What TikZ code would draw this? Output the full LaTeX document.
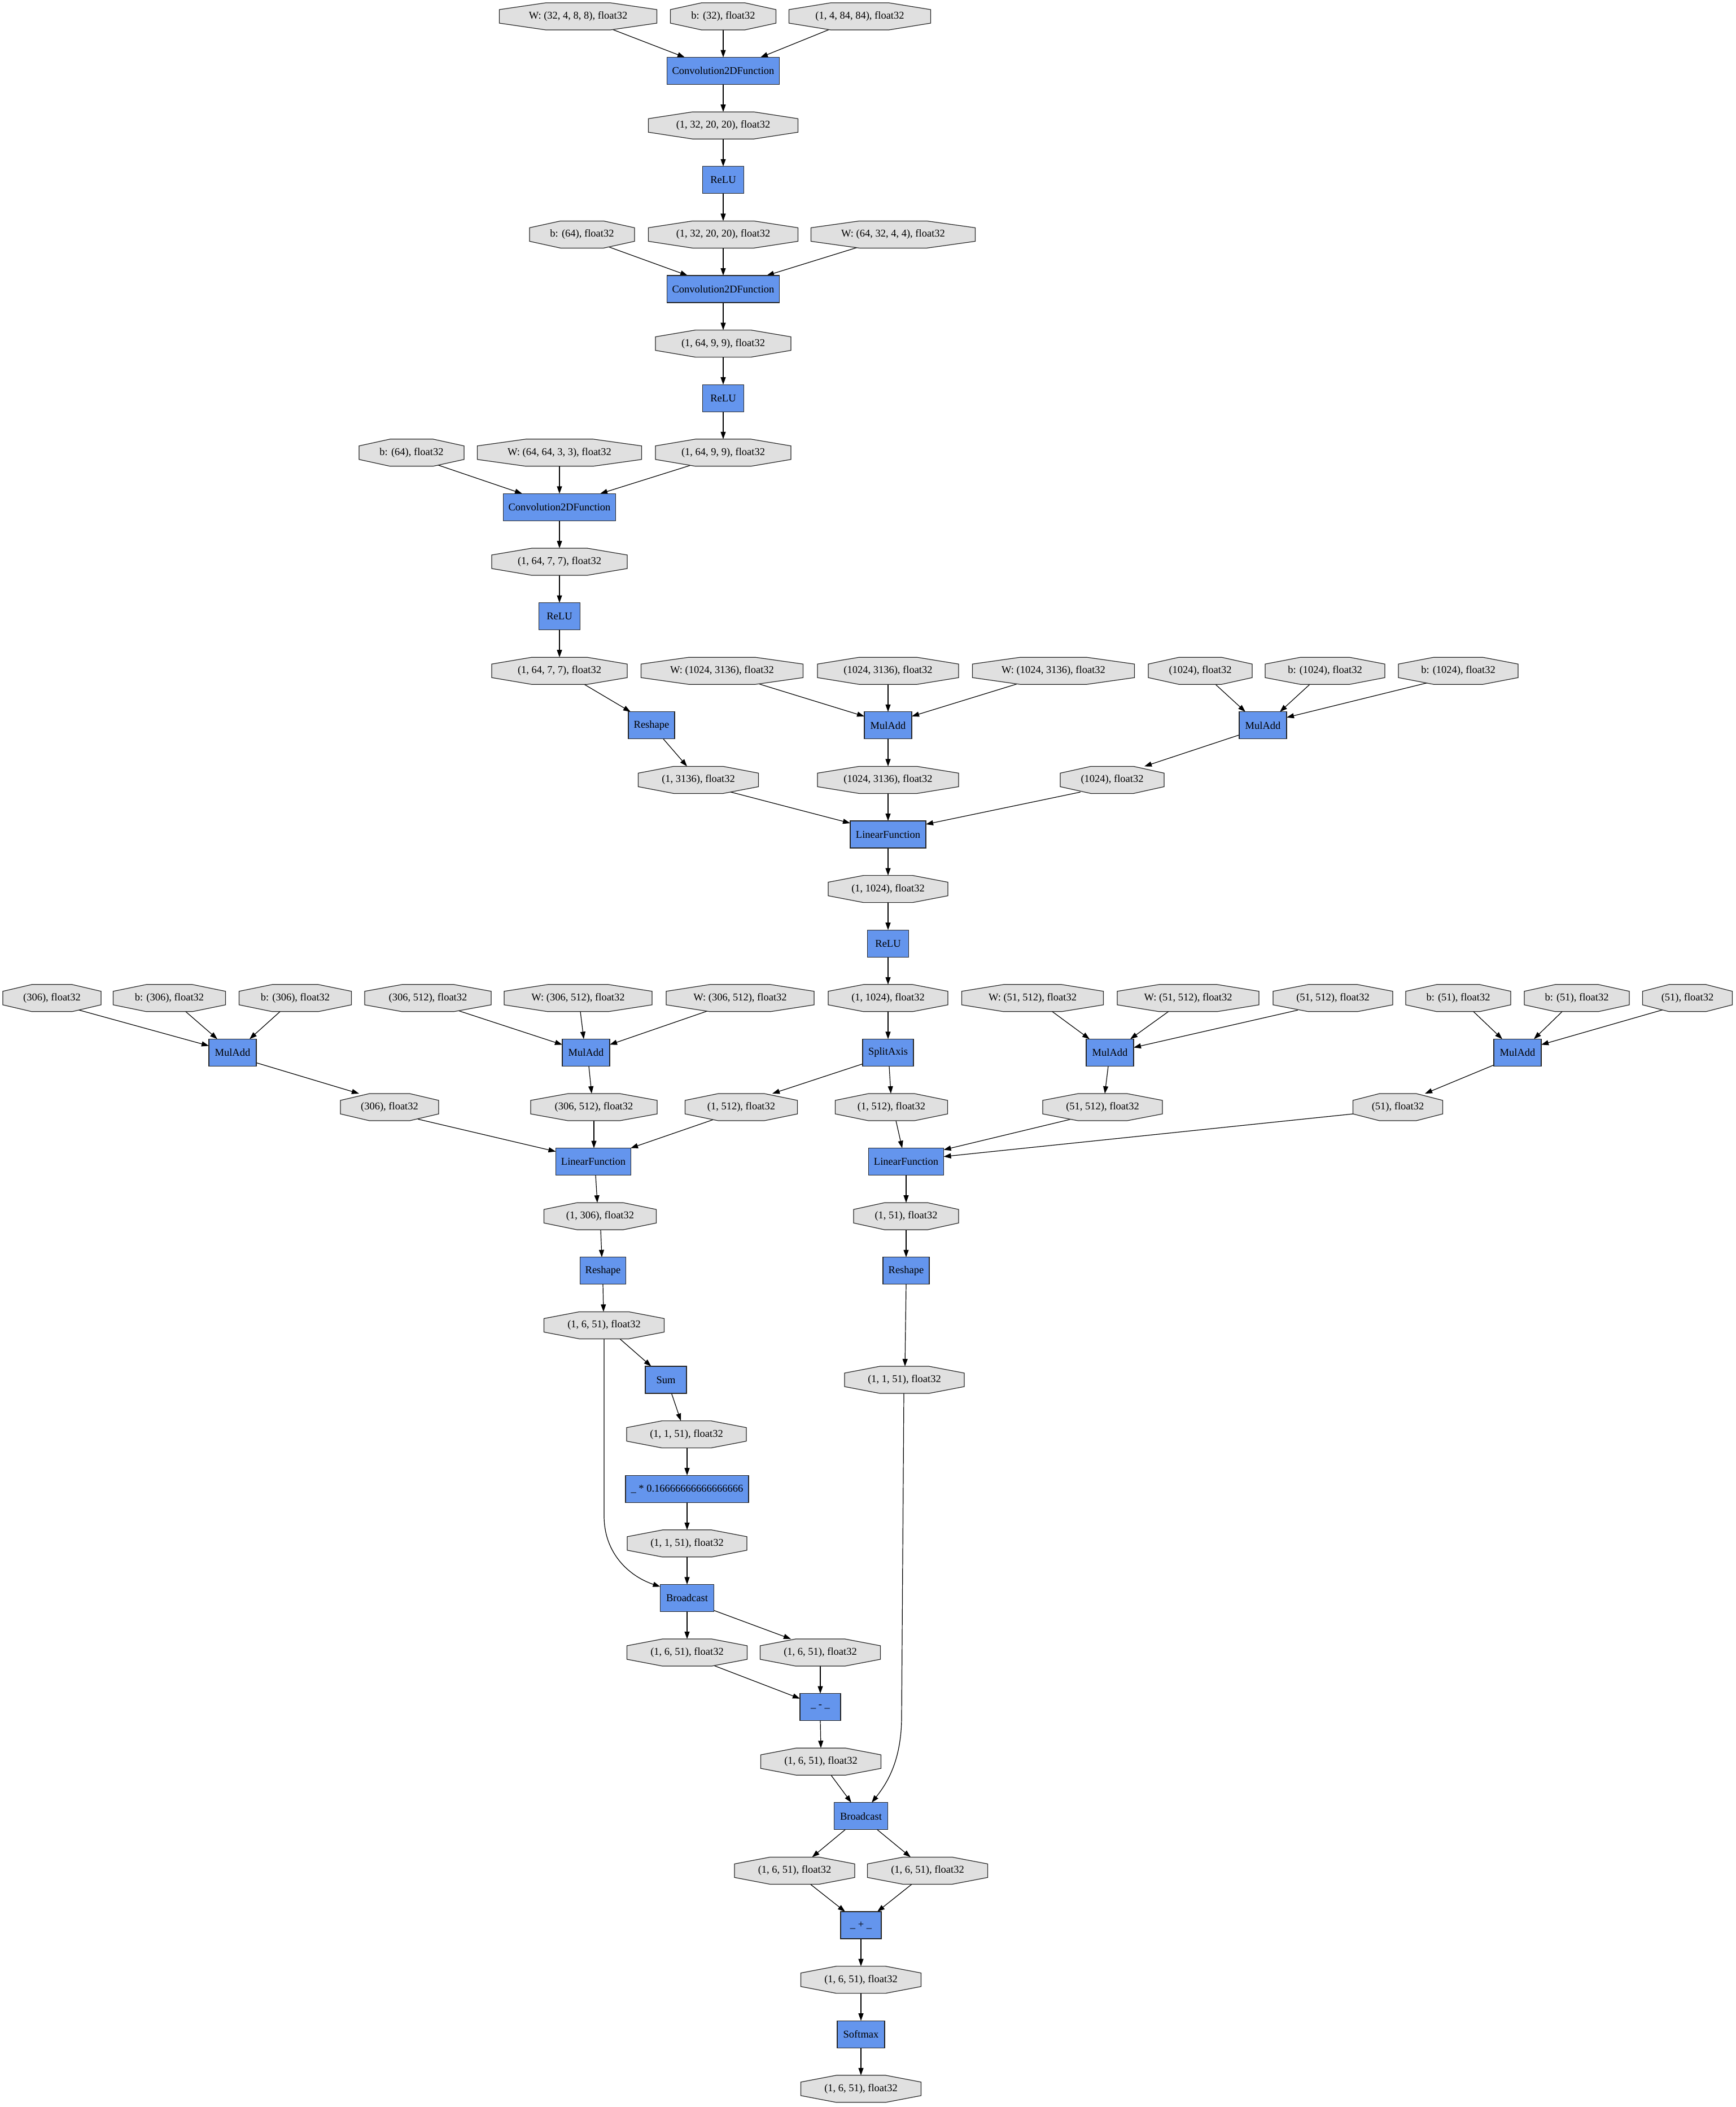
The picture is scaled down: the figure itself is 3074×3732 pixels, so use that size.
\documentclass[tikz,border=0pt]{standalone}
\usepackage{fontspec}
\setmainfont{Liberation Serif}
\usetikzlibrary{arrows.meta,calc}
\pgfdeclarelayer{edgelayer}
\pgfdeclarelayer{octlayer}
\pgfsetlayers{edgelayer,octlayer,main}
\definecolor{varfill}{HTML}{E0E0E0}
\definecolor{fnfill}{HTML}{6495ED}
\newcommand\gvfont{\fontsize{18.5pt}{21pt}\selectfont}
\newcommand\V[5]{\node[var,minimum width=#4pt] (#1) at (#2,{29+96.6*#3}) {#5};}
\newcommand\B[5]{\node[fn,minimum width=#4pt] (#1) at (#2,{29+96.6*#3}) {#5};}
\newcommand\E[4]{\draw[conn] ([xshift=#2pt]#1.south) -- ([xshift=#4pt]#3.north);}
\tikzset{
 var/.style={rectangle,inner sep=0pt,outer sep=0pt,minimum height=48pt,font=\gvfont},
 fn/.style={rectangle,draw=black!85,fill=fnfill,line width=1.2pt,inner sep=0pt,outer sep=0pt,minimum height=48pt,font=\gvfont},
 octshape/.style={draw=black!85,fill=varfill,line width=1.2pt,line join=miter},
 conn/.style={draw=black,line width=1.2pt,-{Triangle[length=13pt,width=9pt]},shorten <=-12pt},
}
\begin{document}
\begin{tikzpicture}[x=1pt,y=-1pt]
\useasboundingbox (0,0) rectangle (3074,3732);
\begin{pgfonlayer}{edgelayer}
\fill[white] (0,0) rectangle (3074,3732);
\end{pgfonlayer}
% row 0-11
\V{i1}{1024}{0}{279}{W: (32, 4, 8, 8), float32}
\V{i2}{1281}{0}{187}{b: (32), float32}
\V{i3}{1523}{0}{251}{(1, 4, 84, 84), float32}
\B{conv1}{1281}{1}{199}{Convolution2DFunction}
\V{v2}{1281}{2}{265}{(1, 32, 20, 20), float32}
\B{relu1}{1281}{3}{73}{ReLU}
\V{b4}{1031}{4}{186}{b: (64), float32}
\V{v4}{1281}{4}{265}{(1, 32, 20, 20), float32}
\V{w4}{1582}{4}{291}{W: (64, 32, 4, 4), float32}
\B{conv2}{1281}{5}{199}{Convolution2DFunction}
\V{v6}{1281}{6}{240}{(1, 64, 9, 9), float32}
\B{relu2}{1281}{7}{73}{ReLU}
\V{b8}{729}{8}{186}{b: (64), float32}
\V{w8}{991}{8}{291}{W: (64, 64, 3, 3), float32}
\V{v8}{1281}{8}{240}{(1, 64, 9, 9), float32}
\B{conv3}{991}{9}{199}{Convolution2DFunction}
\V{v10}{991}{10}{240}{(1, 64, 7, 7), float32}
\B{relu3}{991}{11}{73}{ReLU}
% row 12-17
\V{v12}{991}{12}{240}{(1, 64, 7, 7), float32}
\V{wa12}{1279}{12}{287}{W: (1024, 3136), float32}
\V{c12}{1573}{12}{250}{(1024, 3136), float32}
\V{wb12}{1866}{12}{287}{W: (1024, 3136), float32}
\V{d12}{2126}{12}{184}{(1024), float32}
\V{ba12}{2347}{12}{212}{b: (1024), float32}
\V{bb12}{2583}{12}{212}{b: (1024), float32}
\B{reshape1}{1154}{13}{82}{Reshape}
\B{muladd1}{1573}{13}{84}{MulAdd}
\B{muladd2}{2237}{13}{84}{MulAdd}
\V{v14}{1237}{14}{213}{(1, 3136), float32}
\V{c14}{1573}{14}{250}{(1024, 3136), float32}
\V{d14}{1970}{14}{184}{(1024), float32}
\B{lin1}{1573}{15}{134}{LinearFunction}
\V{v16}{1573}{16}{212}{(1, 1024), float32}
\B{relu4}{1573}{17}{73}{ReLU}
% row 18-23
\V{a18}{92}{18}{174}{(306), float32}
\V{b18a}{300}{18}{199}{b: (306), float32}
\V{b18b}{523}{18}{199}{b: (306), float32}
\V{c18}{758}{18}{224}{(306, 512), float32}
\V{w18a}{1024}{18}{262}{W: (306, 512), float32}
\V{w18b}{1311}{18}{262}{W: (306, 512), float32}
\V{v18}{1573}{18}{212}{(1, 1024), float32}
\V{w18c}{1829}{18}{251}{W: (51, 512), float32}
\V{w18d}{2104.5}{18}{251}{W: (51, 512), float32}
\V{e18}{2361}{18}{212}{(51, 512), float32}
\V{b18c}{2583}{18}{186}{b: (51), float32}
\V{b18d}{2793}{18}{186}{b: (51), float32}
\V{f18}{2989}{18}{159}{(51), float32}
\B{ma3}{412}{19}{84}{MulAdd}
\B{ma4}{1038}{19}{84}{MulAdd}
\B{split}{1573}{19}{90}{SplitAxis}
\B{ma5}{1966}{19}{84}{MulAdd}
\B{ma6}{2688}{19}{84}{MulAdd}
\V{a20}{690}{20}{174}{(306), float32}
\V{c20}{1052}{20}{224}{(306, 512), float32}
\V{s20a}{1313}{20}{199}{(1, 512), float32}
\V{s20b}{1579}{20}{199}{(1, 512), float32}
\V{e20}{1953}{20}{212}{(51, 512), float32}
\V{f20}{2476}{20}{159}{(51), float32}
\B{lin2}{1051}{21}{133}{LinearFunction}
\B{lin3}{1605}{21}{133}{LinearFunction}
\V{v22a}{1063}{22}{199}{(1, 306), float32}
\V{v22b}{1605}{22}{186}{(1, 51), float32}
\B{reshape2}{1068}{23}{81}{Reshape}
\B{reshape3}{1605}{23}{82}{Reshape}
% row 24-38
\V{v24}{1070}{24}{213}{(1, 6, 51), float32}
\B{sum}{1179.5}{25}{73}{Sum}
\V{v25b}{1602}{25}{212}{(1, 1, 51), float32}
\V{v26}{1216}{26}{212}{(1, 1, 51), float32}
\B{mul}{1217}{27}{218}{\_ * 0.16666666666666666}
\V{v28}{1217}{28}{212}{(1, 1, 51), float32}
\B{bc1}{1217}{29}{95}{Broadcast}
\V{v30a}{1217}{30}{213}{(1, 6, 51), float32}
\V{v30b}{1453}{30}{213}{(1, 6, 51), float32}
\B{sub}{1453}{31}{72}{\_ - \_}
\V{v32}{1454}{32}{213}{(1, 6, 51), float32}
\B{bc2}{1525}{33}{95}{Broadcast}
\V{v34a}{1407.5}{34}{213}{(1, 6, 51), float32}
\V{v34b}{1643}{34}{213}{(1, 6, 51), float32}
\B{add}{1525}{35}{72}{\_ + \_}
\V{v36}{1525}{36}{213}{(1, 6, 51), float32}
\B{softmax}{1525}{37}{84}{Softmax}
\V{v38}{1525}{38}{213}{(1, 6, 51), float32}
% octagon outlines
\begin{pgfonlayer}{octlayer}
\foreach \n in {i1,i2,i3,v2,b4,v4,w4,v6,b8,w8,v8,v10,v12,wa12,c12,wb12,d12,ba12,bb12,v14,c14,d14,v16,a18,b18a,b18b,c18,w18a,w18b,v18,w18c,w18d,e18,b18c,b18d,f18,a20,c20,s20a,s20b,e20,f20,v22a,v22b,v24,v25b,v26,v28,v30a,v30b,v32,v34a,v34b,v36,v38}{
 \path[octshape] ($(\n.north west)!.295!(\n.north east)$) -- ($(\n.north west)!.705!(\n.north east)$)
  -- ($(\n.north east)!.25!(\n.south east)$) -- ($(\n.north east)!.75!(\n.south east)$)
  -- ($(\n.south west)!.705!(\n.south east)$) -- ($(\n.south west)!.295!(\n.south east)$)
  -- ($(\n.north west)!.75!(\n.south west)$) -- ($(\n.north west)!.25!(\n.south west)$) -- cycle;
}
\end{pgfonlayer}
% connectors
\begin{pgfonlayer}{edgelayer}
\E{i1}{63}{conv1}{-68}
\E{i2}{0}{conv1}{0}
\E{i3}{-56}{conv1}{66}
\E{conv1}{0}{v2}{0}
\E{v2}{0}{relu1}{0}
\E{relu1}{0}{v4}{0}
\E{b4}{53}{conv2}{-63}
\E{v4}{0}{conv2}{0}
\E{w4}{-67}{conv2}{77}
\E{conv2}{0}{v6}{0}
\E{v6}{0}{relu2}{0}
\E{relu2}{0}{v8}{0}
\E{b8}{53}{conv3}{-66}
\E{w8}{0}{conv3}{0}
\E{v8}{-63}{conv3}{72}
\E{conv3}{0}{v10}{0}
\E{v10}{0}{relu3}{0}
\E{relu3}{0}{v12}{0}
\draw[conn] ([xshift=44pt]v12.south) -- ([xshift=4pt]reshape1.north west);
\draw[conn] ([xshift=68pt]wa12.south) -- ([yshift=-8pt]muladd1.north west);
\E{c12}{0}{muladd1}{0}
\draw[conn] ([xshift=-67pt]wb12.south) -- ([yshift=-8pt]muladd1.north east);
\E{d12}{27}{muladd2}{-31}
\E{ba12}{-27}{muladd2}{30}
\draw[conn] ([xshift=-66pt]bb12.south) -- ([yshift=-10pt]muladd2.north east);
\E{reshape1}{21}{v14}{-20}
\E{muladd1}{0}{c14}{0}
\draw[conn] ([yshift=7pt]muladd2.south west) -- ([xshift=57pt]d14.north);
\draw[conn] ([xshift=67pt]v14.south) -- ([yshift=-4pt]lin1.north west);
\E{c14}{0}{lin1}{0}
\draw[conn] ([xshift=-68pt]d14.south) -- ([yshift=-6pt]lin1.north east);
\E{lin1}{0}{v16}{0}
\E{v16}{0}{relu4}{0}
\E{relu4}{0}{v18}{0}
\draw[conn] ([xshift=58pt]a18.south) -- ([yshift=-12pt]ma3.north west);
\E{b18a}{29}{ma3}{-27}
\E{b18b}{-27}{ma3}{30}
\draw[conn] ([yshift=6pt]ma3.south east) -- ([xshift=-54pt]a20.north);
\draw[conn] ([xshift=59pt]c18.south) -- ([yshift=-10pt]ma4.north west);
\E{w18a}{4}{ma4}{-4}
\draw[conn] ([xshift=-61pt]w18b.south) -- ([yshift=-10pt]ma4.north east);
\E{ma4}{5}{c20}{-4}
\E{v18}{0}{split}{0}
\draw[conn] ([yshift=4pt]split.south west) -- ([xshift=55pt]s20a.north);
\E{split}{2}{s20b}{-1}
\E{w18c}{35}{ma5}{-36}
\E{w18d}{-35}{ma5}{36}
\draw[conn] ([xshift=-74pt]e18.south) -- ([yshift=-15pt]ma5.north east);
\E{b18c}{27}{ma6}{-27}
\E{b18d}{-26}{ma6}{29}
\draw[conn] ([xshift=-55pt]f18.south) -- ([yshift=-10pt]ma6.north east);
\E{ma5}{-3}{e20}{4}
\draw[conn] ([yshift=2pt]ma6.south west) -- ([xshift=48pt]f20.north);
\draw[conn] ([xshift=62pt]a20.south) -- ([yshift=-6pt]lin2.north west);
\E{c20}{0}{lin2}{1}
\E{s20a}{-55}{lin2}{66}
\E{s20b}{8}{lin3}{-7}
\draw[conn] ([xshift=-67pt]e20.south) -- ([yshift=-3pt]lin3.north east);
\draw[conn] ([yshift=-12pt]f20.west) -- ([yshift=9pt]lin3.east);
\E{lin2}{4}{v22a}{-5}
\E{v22a}{1}{reshape2}{-2}
\E{lin3}{0}{v22b}{0}
\E{v22b}{0}{reshape3}{0}
\E{reshape2}{0}{v24}{-1}
\E{reshape3}{0}{v25b}{1}
\E{v24}{28}{sum}{-26}
\draw[conn] (v24.south) -- (1070,2685) .. controls (1070,2752) and (1115,2792) .. ([yshift=-4pt]bc1.north west);
\E{sum}{10}{v26}{-10}
\E{v26}{1}{mul}{0}
\E{mul}{0}{v28}{0}
\E{v28}{0}{bc1}{0}
\E{bc1}{0}{v30a}{0}
\draw[conn] ([yshift=2pt]bc1.south east) -- ([xshift=-52pt]v30b.north);
\draw[conn] ([xshift=50pt]v30a.south) -- ([yshift=-9pt]sub.north west);
\E{v30b}{0}{sub}{0}
\E{sub}{0}{v32}{0}
\E{v32}{18}{bc2}{-17}
\draw[conn] ([xshift=-1pt]v25b.south) -- (1597,3040) .. controls (1597,3120) and (1570,3160) .. ([xshift=19pt]bc2.north);
\E{bc2}{-28}{v34a}{31}
\E{bc2}{29}{v34b}{-30}
\E{v34a}{28}{add}{-28}
\E{v34b}{-28}{add}{29}
\E{add}{0}{v36}{0}
\E{v36}{0}{softmax}{0}
\E{softmax}{0}{v38}{0}
\end{pgfonlayer}
\end{tikzpicture}
\end{document}
